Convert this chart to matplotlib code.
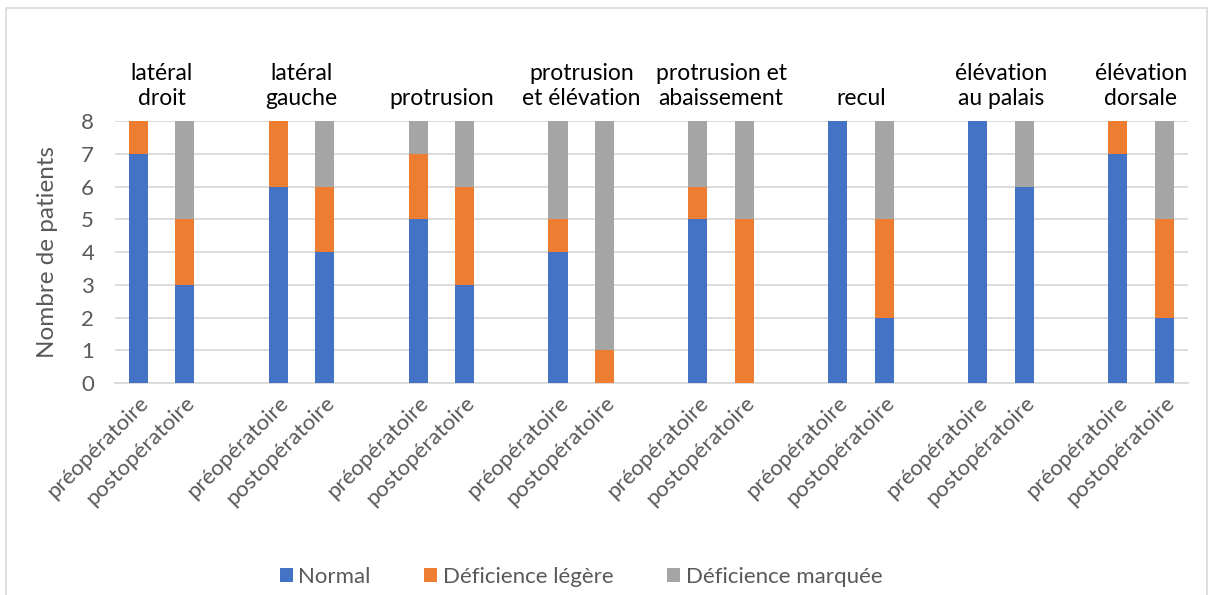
import matplotlib
matplotlib.use("Agg")
import matplotlib.pyplot as plt
from matplotlib.patches import Rectangle
import numpy as np

plt.rcParams['font.family'] = ['Lato', 'DejaVu Sans']

groups = ["latéral\ndroit", "latéral\ngauche", "protrusion", "protrusion\net élévation",
          "protrusion et\nabaissement", "recul", "élévation\nau palais", "élévation\ndorsale"]
phases = ["préopératoire", "postopératoire"]
series_names = ["Normal", "Déficience légère", "Déficience marquée"]

# values per group: [pre, post]
normal = [[7, 3], [6, 4], [5, 3], [4, 0], [5, 0], [8, 2], [8, 6], [7, 2]]
legere = [[1, 2], [2, 2], [2, 3], [1, 1], [1, 5], [0, 3], [0, 0], [1, 3]]
marquee = [[0, 3], [0, 2], [1, 2], [3, 7], [2, 3], [0, 3], [0, 2], [0, 3]]

colors = ["#4472C4", "#ED7D31", "#A5A5A5"]
txt_gray = "#595959"

fig = plt.figure(figsize=(12.13, 5.95), dpi=100)
ax = fig.add_axes([0.0948, 0.3563, 0.979 - 0.0948, 0.7966 - 0.3563])

pos, labels, n_vals, l_vals, m_vals = [], [], [], [], []
for g in range(len(groups)):
    for p in range(2):
        pos.append(3 * g + p)
        labels.append(phases[p])
        n_vals.append(normal[g][p])
        l_vals.append(legere[g][p])
        m_vals.append(marquee[g][p])
pos = np.array(pos)
n_vals = np.array(n_vals); l_vals = np.array(l_vals); m_vals = np.array(m_vals)

w = 0.41
ax.bar(pos, n_vals, w, color=colors[0], label=series_names[0], zorder=3)
ax.bar(pos, l_vals, w, bottom=n_vals, color=colors[1], label=series_names[1], zorder=3)
ax.bar(pos, m_vals, w, bottom=n_vals + l_vals, color=colors[2], label=series_names[2], zorder=3)

ax.set_xlim(-0.5, 3 * len(groups) - 1.5)
ax.set_ylim(0, 8)
ax.set_yticks(range(0, 9))
ax.yaxis.grid(True, color="#D9D9D9", linewidth=1.3, zorder=0)
ax.set_axisbelow(True)
for s in ["top", "right", "left"]:
    ax.spines[s].set_visible(False)
ax.spines["bottom"].set_color("#D9D9D9")
ax.spines["bottom"].set_linewidth(1.3)
ax.tick_params(axis="both", length=0, colors=txt_gray, labelsize=16)
ax.tick_params(axis="y", pad=15)

ax.set_xticks(pos)
ax.set_xticklabels(labels, rotation=45, ha="right", rotation_mode="anchor",
                   fontsize=16, color=txt_gray)
ax.tick_params(axis="x", pad=7)

ax.set_ylabel("Nombre de patients", fontsize=17.5, color=txt_gray, labelpad=17)

trans = matplotlib.transforms.blended_transform_factory(ax.transData, ax.transAxes)
for g, name in enumerate(groups):
    ax.text(3 * g + 0.5, 1.045, name, transform=trans, ha="center", va="bottom",
            fontsize=16.5, color="black", linespacing=1.25)

leg = fig.legend(loc="lower center", bbox_to_anchor=(0.479, -0.02), ncol=3, frameon=False,
                 fontsize=16, handlelength=0.6, handleheight=0.6, handletextpad=0.25,
                 columnspacing=2.4)
for t in leg.get_texts():
    t.set_color(txt_gray)

fig.patches.append(Rectangle((0.005, -0.1), 0.99, 1.087, transform=fig.transFigure,
                             fill=False, edgecolor="#D9D9D9", linewidth=1.2))

fig.savefig("out.png", dpi=100, facecolor="white")
